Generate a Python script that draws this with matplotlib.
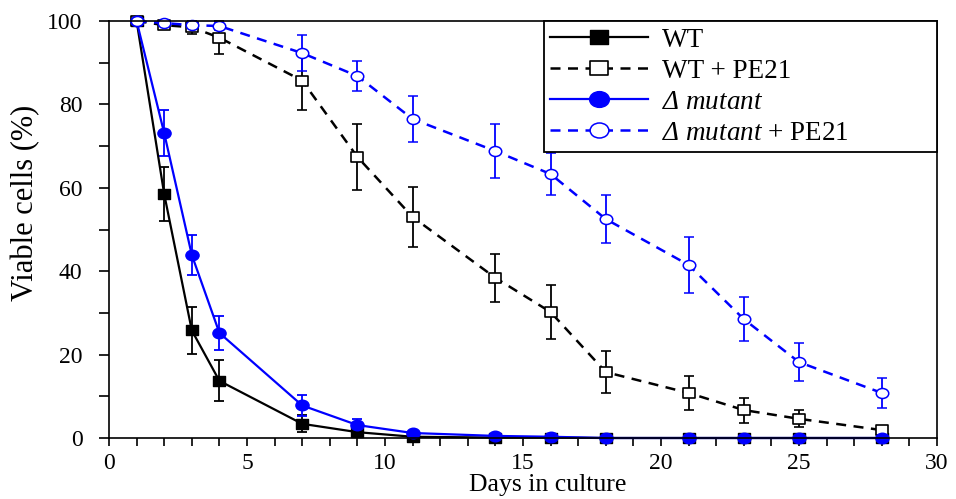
import numpy as np
import matplotlib
matplotlib.use('Agg')
import matplotlib.pyplot as plt
from matplotlib.ticker import MultipleLocator
from matplotlib.path import Path

plt.rcParams['font.family'] = ['Liberation Serif', 'DejaVu Serif']
# math is only used for the italic "Δ mutant" part of the legend,
# so both math fonts point to the italic face (keeps the Δ slanted too)
plt.rcParams['mathtext.fontset'] = 'custom'
plt.rcParams['mathtext.rm'] = 'Liberation Serif:italic'
plt.rcParams['mathtext.it'] = 'Liberation Serif:italic'

# Data
days = [1, 2, 3, 4, 7, 9, 11, 14, 16, 18, 21, 23, 25, 28]

wt = [100, 58.5, 25.8, 13.7, 3.4, 1.4, 0.3, 0.1, 0.1, 0, 0, 0, 0, 0]
wt_err = [0.5, 6.5, 5.6, 4.9, 2.0, 0.8, 0.3, 0, 0, 0, 0, 0, 0, 0]

wt_pe = [100, 99, 98.5, 96, 85.7, 67.4, 53, 38.4, 30.2, 15.8, 10.8, 6.7, 4.6, 1.9]
wt_pe_err = [0.5, 1, 1.5, 4, 7, 8, 7.2, 5.8, 6.4, 5, 4, 3, 2, 0.5]

mut = [100, 73.1, 43.9, 25.2, 7.8, 3.1, 1.2, 0.5, 0.3, 0, 0, 0, 0, 0]
mut_err = [0.5, 5.5, 4.7, 4, 2.5, 1.5, 0.5, 0.3, 0.2, 0, 0, 0, 0, 0]

mut_pe = [100, 99.5, 99, 98.8, 92.3, 86.8, 76.5, 68.8, 63.3, 52.5, 41.5, 28.5, 18.2, 10.8]
mut_pe_err = [0.5, 0.5, 0.8, 1, 4.3, 3.6, 5.5, 6.4, 5, 5.8, 6.8, 5.2, 4.5, 3.5]

labels = ['WT', 'WT + PE21', r'$Δ\ mutant$', r'$Δ\ mutant$ + PE21']

# the source picture is stretched sideways, so markers are a bit wider than tall
circ = Path.unit_circle()
ellipse = Path(circ.vertices * [1.0, 0.8], circ.codes)
rect = Path([(-1, -0.77), (1, -0.77), (1, 0.77), (-1, 0.77), (-1, -0.77)],
            [Path.MOVETO, Path.LINETO, Path.LINETO, Path.LINETO, Path.CLOSEPOLY])

fig = plt.figure(figsize=(9.56, 4.99), dpi=100)
ax = fig.add_axes([109/956, 1-438/499, 828/956, 417/499])

blue = '#0000ff'
ekw = dict(capsize=3.8, elinewidth=1.3, capthick=1.3, clip_on=False)

c0 = ax.errorbar(days, wt, yerr=wt_err, color='black', ls='-', lw=1.6,
                 marker=rect, ms=9, mfc='black', mec='black',
                 ecolor='black', **ekw)
c1 = ax.errorbar(days, wt_pe, yerr=wt_pe_err, color='black', ls=(0, (4, 3)), lw=1.8,
                 marker=rect, ms=8.6, mfc='white', mec='black', mew=1.2,
                 ecolor='black', **ekw)
c2 = ax.errorbar(days, mut, yerr=mut_err, color=blue, ls='-', lw=1.6,
                 marker=ellipse, ms=9.5, mfc=blue, mec=blue,
                 ecolor=blue, **ekw)
c3 = ax.errorbar(days, mut_pe, yerr=mut_pe_err, color=blue, ls=(0, (4, 3)), lw=1.8,
                 marker=ellipse, ms=9, mfc='white', mec=blue, mew=1.1,
                 ecolor=blue, **ekw)

ax.set_xlim(0, 30)
ax.set_ylim(0, 100)
ax.xaxis.set_major_locator(MultipleLocator(5))
ax.xaxis.set_minor_locator(MultipleLocator(1))
ax.yaxis.set_major_locator(MultipleLocator(20))
ax.yaxis.set_minor_locator(MultipleLocator(10))
ax.tick_params(axis='x', which='both', direction='out', length=5.5, width=1.2,
               labelsize=17, pad=5)
ax.tick_params(axis='y', which='both', direction='out', length=7, width=1.2,
               labelsize=17, pad=12)
for s in ax.spines.values():
    s.set_linewidth(1.2)

ax.set_xlabel('Days in culture', fontsize=18.5, va='baseline')
ax.xaxis.set_label_coords((548-109)/828, -(491-438)/417)
ax.set_ylabel('Viable cells (%)', fontsize=22)
ax.yaxis.set_label_coords(-0.083, 0.564)

handles = [c0[0], c1[0], c2[0], c3[0]]
leg = ax.legend(handles, labels, loc='upper left',
                bbox_to_anchor=(0.525, 0, 0.475, 1.0), mode='expand', borderaxespad=0,
                fontsize=19.5, handlelength=3.6, handletextpad=0.5, labelspacing=0.22,
                markerscale=1.5, fancybox=False, edgecolor='black', framealpha=1,
                borderpad=0.25)
leg.get_frame().set_linewidth(1.3)

fig.savefig('out.png', dpi=100)
